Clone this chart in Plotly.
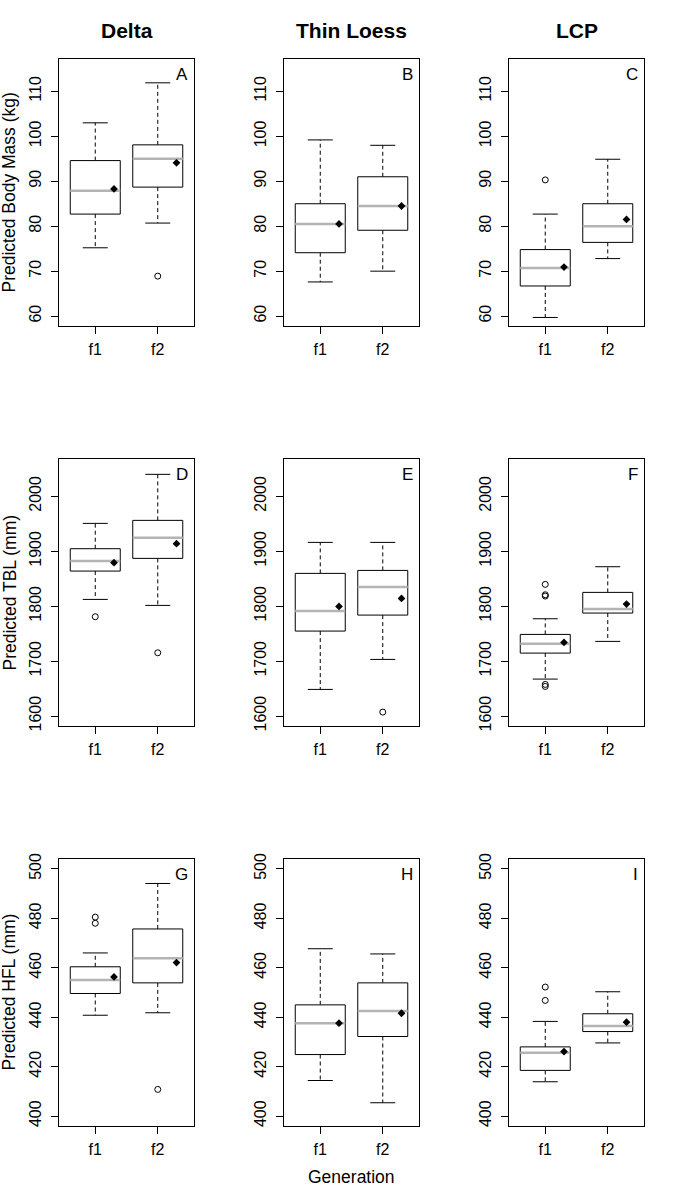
import plotly.graph_objects as go

# ---------------- data ----------------
groups = ["f1", "f2"]
columns = ["Delta", "Thin Loess", "LCP"]
row_titles = ["Predicted Body Mass (kg)", "Predicted TBL (mm)", "Predicted HFL (mm)"]
panel_letters = ["A", "B", "C", "D", "E", "F", "G", "H", "I"]

# each panel: [f1, f2] values
lower_whisker = [
    [75.2, 80.7], [67.6, 70.0], [59.7, 72.8],
    [1812.4, 1801.5], [1648.6, 1703.2], [1667.4, 1736.0],
    [440.8, 441.8], [414.4, 405.4], [413.9, 429.6],
]
q1 = [
    [82.7, 88.7], [74.1, 79.1], [66.7, 76.4],
    [1864.0, 1887.1], [1754.8, 1783.9], [1714.7, 1787.6],
    [449.6, 453.9], [424.9, 432.2], [418.5, 434.2],
]
median = [
    [87.9, 95.0], [80.5, 84.5], [70.7, 80.0],
    [1882.2, 1924.7], [1791.2, 1834.9], [1731.7, 1794.8],
    [455.1, 463.9], [437.6, 442.5], [425.6, 436.5],
]
q3 = [
    [94.6, 98.1], [85.0, 91.0], [74.8, 85.0],
    [1904.7, 1956.3], [1859.8, 1865.2], [1748.7, 1825.2],
    [460.4, 475.7], [445.0, 453.9], [428.0, 441.4],
]
upper_whisker = [
    [103.0, 111.9], [99.2, 98.0], [82.7, 94.9],
    [1950.8, 2040.1], [1916.2, 1916.2], [1777.2, 1871.9],
    [466.0, 494.1], [467.7, 465.6], [438.3, 450.3],
]
means = [
    [88.3, 94.1], [80.5, 84.5], [70.9, 81.5],
    [1879.2, 1913.8], [1799.7, 1814.3], [1734.1, 1803.9],
    [456.3, 462.1], [437.6, 441.6], [426.1, 438.0],
]
outliers = [
    [[], [68.9]], [[], []], [[90.3], []],
    [[1780.9], [1715.3]], [[], [1607.3]], [[1839.8, 1820.9, 1818.5, 1657.7, 1654.0], []],
    [[480.5, 478.0], [410.8]], [[], []], [[452.2, 446.8], []],
]

row_ylim = [(60, 115), (1600, 2050), (400, 500)]
row_ticks = [list(range(60, 111, 10)), list(range(1600, 2001, 100)), list(range(400, 501, 20))]

# ---------------- layout geometry ----------------
W, H = 675, 1200
col_px = [(59, 194), (284, 419), (509, 644)]
row_px = [(59, 326), (459, 726), (859, 1126)]

FONT = "Liberation Sans, Arial, sans-serif"
BOX_HALF = 0.4
CAP_HALF = 0.2
MEAN_OFF = 0.3

fig = go.Figure()
layout_axes = {}
annotations = []

for p in range(9):
    r, c = divmod(p, 3)
    n = p + 1
    xa = "x" if n == 1 else f"x{n}"
    ya = "y" if n == 1 else f"y{n}"
    xkey = "xaxis" if n == 1 else f"xaxis{n}"
    ykey = "yaxis" if n == 1 else f"yaxis{n}"

    bx, by, wx, wy, cx, cy, mx, my, ox, oy, ex, ey = ([] for _ in range(12))
    for g in range(2):
        xc = g + 1
        lo, a, m, b, hi = lower_whisker[p][g], q1[p][g], median[p][g], q3[p][g], upper_whisker[p][g]
        bx += [xc - BOX_HALF, xc + BOX_HALF, xc + BOX_HALF, xc - BOX_HALF, xc - BOX_HALF, None]
        by += [a, a, b, b, a, None]
        wx += [xc, xc, None, xc, xc, None]
        wy += [b, hi, None, a, lo, None]
        cx += [xc - CAP_HALF, xc + CAP_HALF, None, xc - CAP_HALF, xc + CAP_HALF, None]
        cy += [hi, hi, None, lo, lo, None]
        mx += [xc - BOX_HALF, xc + BOX_HALF, None]
        my += [m, m, None]
        for v in outliers[p][g]:
            ox.append(xc)
            oy.append(v)
        ex.append(xc + MEAN_OFF)
        ey.append(means[p][g])

    common = dict(xaxis=xa, yaxis=ya, showlegend=False, hoverinfo="skip")
    fig.add_trace(go.Scatter(x=wx, y=wy, mode="lines",
                             line=dict(color="black", width=1, dash="4px,3px"), **common))
    fig.add_trace(go.Scatter(x=cx, y=cy, mode="lines",
                             line=dict(color="black", width=1), **common))
    fig.add_trace(go.Scatter(x=bx, y=by, mode="lines", fill="toself", fillcolor="white",
                             line=dict(color="black", width=1), **common))
    fig.add_trace(go.Scatter(x=mx, y=my, mode="lines",
                             line=dict(color="#b4b4b4", width=2.5), **common))
    if ox:
        fig.add_trace(go.Scatter(x=ox, y=oy, mode="markers",
                                 marker=dict(symbol="circle-open", size=6, color="black",
                                             line=dict(width=1, color="black")), **common))
    fig.add_trace(go.Scatter(x=ex, y=ey, mode="markers",
                             marker=dict(symbol="diamond", size=6, color="black"), **common))

    lo_lim, hi_lim = row_ylim[r]
    ext = (hi_lim - lo_lim) * 0.04
    x0, x1 = col_px[c]
    y0, y1 = row_px[r]
    layout_axes[xkey] = dict(
        domain=[x0 / W, x1 / W], anchor=ya, range=[0.42, 2.58], automargin=False,
        tickmode="array", tickvals=[1, 2], ticktext=groups,
        ticks="outside", ticklen=7, tickwidth=1, tickcolor="black",
        showline=True, linecolor="black", linewidth=1, mirror=True,
        showgrid=False, zeroline=False,
        tickfont=dict(family=FONT, size=16, color="black"), ticklabelstandoff=2,
    )
    layout_axes[ykey] = dict(
        domain=[1 - y1 / H, 1 - y0 / H], anchor=xa, range=[lo_lim - ext, hi_lim + ext],
        automargin=False,
        tickmode="array", tickvals=row_ticks[r], tickangle=-90,
        ticks="outside", ticklen=7, tickwidth=1, tickcolor="black",
        showline=True, linecolor="black", linewidth=1, mirror=True,
        showgrid=False, zeroline=False,
        tickfont=dict(family=FONT, size=16, color="black"), ticklabelstandoff=4,
    )
    annotations.append(dict(
        text=panel_letters[p], xref=f"{xa} domain", yref=f"{ya} domain",
        x=1, y=1, xanchor="right", yanchor="middle", xshift=-4, yshift=-15,
        showarrow=False, font=dict(family=FONT, size=17, color="black"),
    ))

# column titles
col_centers = [126.5, 351.5, 576.5]
for c, t in enumerate(columns):
    annotations.append(dict(
        text=f"<b>{t}</b>", xref="paper", yref="paper",
        x=col_centers[c] / W, y=1 - 30 / H, xanchor="center", yanchor="middle",
        showarrow=False, font=dict(family=FONT, size=21, color="black"),
    ))

# row (y-axis) titles
for r, t in enumerate(row_titles):
    yc = (row_px[r][0] + row_px[r][1]) / 2
    annotations.append(dict(
        text=t, xref="paper", yref="paper", textangle=-90,
        x=9 / W, y=1 - yc / H, xanchor="center", yanchor="middle",
        showarrow=False, font=dict(family=FONT, size=17.5, color="black"),
    ))

annotations.append(dict(
    text="Generation", xref="paper", yref="paper",
    x=351.5 / W, y=1 - 1177 / H, xanchor="center", yanchor="middle",
    showarrow=False, font=dict(family=FONT, size=17.5, color="black"),
))

fig.update_layout(
    template="none",
    width=W, height=H,
    margin=dict(l=0, r=0, t=0, b=0, pad=0, autoexpand=False),
    paper_bgcolor="white", plot_bgcolor="white",
    annotations=annotations,
    **layout_axes,
)

fig.write_html(
    "out.html",
    config={"displayModeBar": False},
    post_script="document.body.style.margin='0';document.body.style.overflow='hidden';",
)
